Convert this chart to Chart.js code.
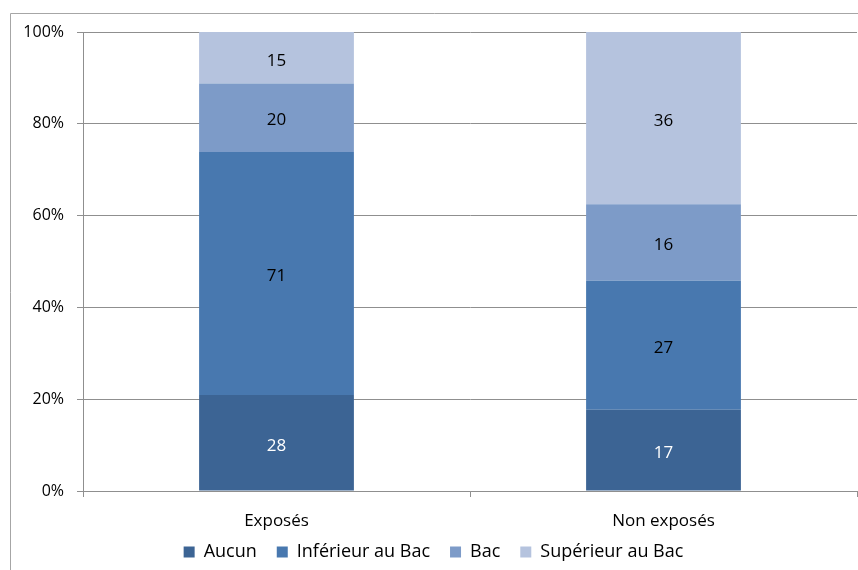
<!DOCTYPE html>
<html>
<head>
<meta charset="utf-8">
<script src="https://cdn.jsdelivr.net/npm/chart.js@4.4.0/dist/chart.umd.min.js"></script>
<style>
  html, body { margin: 0; padding: 0; background: #fff; overflow: hidden; }
  #wrap { position: relative; width: 858px; height: 570px; overflow: hidden; }
</style>
</head>
<body>
<div id="wrap"><canvas id="eduChart" width="858" height="571"></canvas></div>
<script>
// categories and series (counts), bars are shown as % of each column
const categories = ['Exposés', 'Non exposés'];
const seriesNames = ['Aucun', 'Inférieur au Bac', 'Bac', 'Supérieur au Bac'];
const aucun = [28, 17];
const inferieur = [71, 27];
const bac = [20, 16];
const superieur = [15, 36];
const yTicks = ['0%', '20%', '40%', '60%', '80%', '100%'];

const colors = ['#3c6494', '#4878af', '#7d9bc8', '#b5c3de'];
const labelColors = ['#ffffff', '#000000', '#000000', '#000000'];
const FONT = "'Open Sans', 'DejaVu Sans', sans-serif";

const rawSeries = [aucun, inferieur, bac, superieur];
const totals = categories.map((c, i) => rawSeries.reduce((s, arr) => s + arr[i], 0));

// the x axis is squeezed so the legend sits close to it: don't clip its labels
Chart.CategoryScale.prototype._computeLabelArea = function () { return undefined; };

// outer frame (left + top border of the chart object)
const framePlugin = {
    id: 'frame',
    beforeDraw(chart) {
        const ctx = chart.ctx;
        ctx.save();
        ctx.strokeStyle = '#a6a6a6';
        ctx.lineWidth = 1;
        ctx.beginPath();
        ctx.moveTo(10.5, 571);
        ctx.lineTo(10.5, 13.5);
        ctx.lineTo(858, 13.5);
        ctx.stroke();
        ctx.restore();
    }
};

// raw counts written in the middle of each segment
const valueLabels = {
    id: 'valueLabels',
    afterDatasetsDraw(chart) {
        const ctx = chart.ctx;
        ctx.save();
        ctx.font = '17px ' + FONT;
        ctx.textAlign = 'center';
        ctx.textBaseline = 'middle';
        chart.data.datasets.forEach((ds, di) => {
            const meta = chart.getDatasetMeta(di);
            meta.data.forEach((bar, i) => {
                const mid = (bar.y + bar.base) / 2 + 3;
                ctx.fillStyle = labelColors[di];
                ctx.fillText(String(rawSeries[di][i]), bar.x, mid);
            });
        });
        ctx.restore();
    }
};

const ctx = document.getElementById('eduChart').getContext('2d');
const eduChart = new Chart(ctx, {
    type: 'bar',
    data: {
        labels: categories,
        datasets: seriesNames.map((name, k) => ({
            label: name,
            data: rawSeries[k].map((v, i) => v / totals[i] * 100),
            backgroundColor: colors[k],
            borderWidth: 0,
            categoryPercentage: 0.4,
            barPercentage: 1.0
        }))
    },
    options: {
        responsive: false,
        animation: false,
        devicePixelRatio: 1,
        layout: { padding: { left: 10, top: 32, right: 1, bottom: 0 } },
        scales: {
            x: {
                stacked: true,
                grid: {
                    display: true,
                    drawOnChartArea: false,
                    tickLength: 6,
                    color: '#8f8f8f',
                    offset: true
                },
                border: { color: '#8f8f8f' },
                ticks: {
                    color: '#000',
                    font: { family: FONT, size: 17 },
                    padding: 14
                },
                afterFit(scale) { scale.height = 32; }
            },
            y: {
                stacked: true,
                min: 0,
                max: 100,
                grid: { color: '#8f8f8f', tickLength: 6 },
                border: { color: '#8f8f8f' },
                ticks: {
                    stepSize: 20,
                    color: '#000',
                    font: { family: FONT, size: 16 },
                    padding: 13,
                    callback: (v) => yTicks[v / 20]
                },
                afterFit(scale) { scale.width = 73; }
            }
        },
        plugins: {
            legend: {
                position: 'bottom',
                labels: {
                    color: '#000',
                    font: { family: FONT, size: 18 },
                    boxWidth: 11,
                    boxHeight: 11,
                    padding: 20
                }
            },
            tooltip: { enabled: false }
        }
    },
    plugins: [framePlugin, valueLabels]
});
</script>
</body>
</html>
